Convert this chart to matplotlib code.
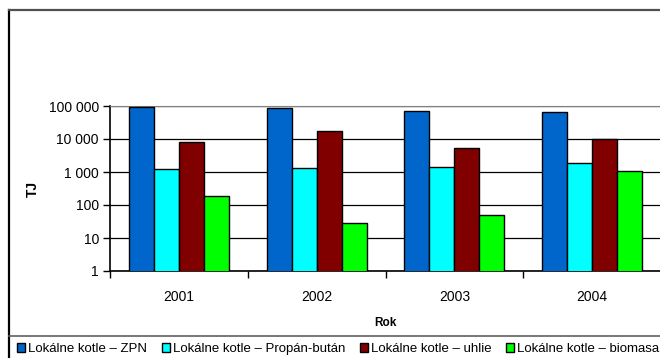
import numpy as np
import matplotlib.pyplot as plt
from matplotlib.patches import Patch
from matplotlib.ticker import FixedLocator, FuncFormatter

plt.rcParams['font.family'] = ['Liberation Sans', 'DejaVu Sans']

# energy use of local boilers by fuel, TJ
years = ['2001', '2002', '2003', '2004']
series = ['Lokálne kotle – ZPN', 'Lokálne kotle – Propán-bután',
          'Lokálne kotle – uhlie', 'Lokálne kotle – biomasa']
zpn = [91000, 85000, 72000, 64000]
propan = [1260, 1290, 1380, 1870]
uhlie = [8100, 17500, 5350, 10200]
biomasa = [187, 29, 49, 1090]
colors = ['#0066CC', '#00FFFF', '#800000', '#00FF00']

W, H = 660, 358
fig = plt.figure(figsize=(W / 100, H / 100), dpi=100)
ax = fig.add_axes([110 / W, 1 - 271 / H, 551 / W, 165 / H])

x = np.arange(len(years))
width = 1 / 5.5
for i, (vals, c) in enumerate(zip([zpn, propan, uhlie, biomasa], colors)):
    ax.bar(x + (i - 1.5) * width, vals, width, color=c, edgecolor='black',
           linewidth=1, zorder=3)

ax.set_yscale('log')
ax.set_ylim(1, 100000)
ax.set_xlim(-0.5, 3.5)
ax.yaxis.set_major_locator(FixedLocator([1, 10, 100, 1000, 10000, 100000]))
ax.yaxis.set_minor_locator(FixedLocator([]))
ax.yaxis.set_major_formatter(FuncFormatter(lambda v, p: f'{int(v):,}'.replace(',', ' ')))
ax.grid(axis='y', color='black', linewidth=0.9, zorder=0)

# tick marks between categories, labels at centres
ax.set_xticks(np.arange(-0.5, 4, 1))
ax.set_xticklabels([])
ax.set_xticks(x, minor=True)
ax.set_xticklabels(years, minor=True)
ax.tick_params(axis='x', which='major', length=5, width=1, direction='out')
ax.tick_params(axis='x', which='minor', length=0, pad=14, labelsize=10)
ax.tick_params(axis='y', length=5, width=1, labelsize=10, pad=3)

for side in ['left', 'bottom']:
    ax.spines[side].set_color('black')
    ax.spines[side].set_linewidth(1.2)
ax.spines['top'].set_color('#808080')
ax.spines['right'].set_visible(False)

ax.set_ylabel('TJ', fontsize=10, fontweight='bold', labelpad=6)
ax.set_xlabel('Rok', fontsize=8.5, fontweight='bold', labelpad=9)

# outer chart frame and legend box top line
fig.add_artist(plt.Line2D([8.5 / W, 8.5 / W], [0, 1 - 10 / H], color='black', lw=1.6))
fig.add_artist(plt.Line2D([8.5 / W, 1], [1 - 10 / H, 1 - 10 / H], color='#505050', lw=1.6))
fig.add_artist(plt.Line2D([8.5 / W, 1], [1 - 336 / H, 1 - 336 / H], color='#606060', lw=1.2))

handles = [Patch(facecolor=c, edgecolor='black', linewidth=1) for c in colors]
fig.legend(handles, series, loc='center left', bbox_to_anchor=(17 / W, 1 - 349 / H),
           ncol=4, frameon=False, fontsize=9.5, handlelength=0.6, handleheight=0.6,
           handletextpad=0.25, columnspacing=1.1, borderpad=0, borderaxespad=0)

fig.savefig('out.png', dpi=100)
